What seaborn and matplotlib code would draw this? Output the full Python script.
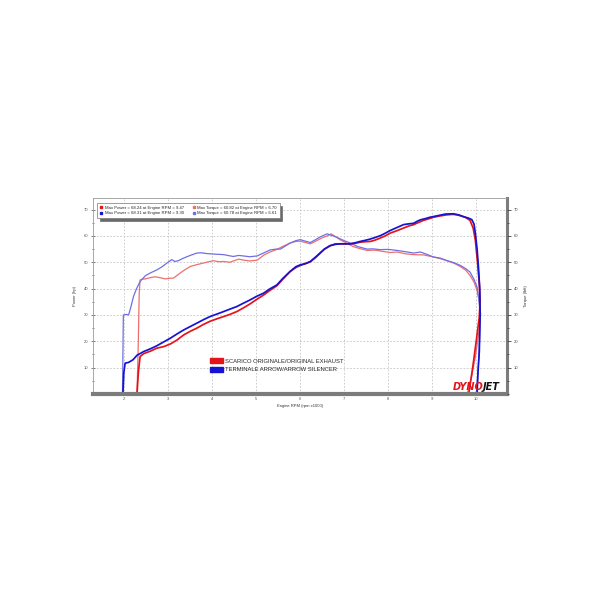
import numpy as np
import pandas as pd
import matplotlib.pyplot as plt
import seaborn as sns
from matplotlib.lines import Line2D
from matplotlib.patches import Patch
from matplotlib.ticker import MultipleLocator


# --- data (rpm in thousands) ---
red_power_rpm = [2.29, 2.32, 2.36, 2.44, 2.6, 2.74, 2.9, 3.05, 3.2, 3.35, 3.5, 3.65, 3.8, 3.95,
                 4.1, 4.26, 4.4, 4.56, 4.7, 4.86, 5.0, 5.17, 5.3, 5.47, 5.6, 5.77, 5.9, 6.0,
                 6.12, 6.23, 6.35, 6.45, 6.55, 6.68, 6.8, 6.91, 7.02, 7.14, 7.25, 7.36, 7.47,
                 7.59, 7.7, 7.82, 7.93, 8.05, 8.2, 8.35, 8.47, 8.58, 8.7, 8.8, 8.92, 9.03,
                 9.18, 9.33, 9.47, 9.56, 9.66, 9.75, 9.86, 9.93, 9.98, 10.03, 10.07, 10.09,
                 10.07, 10.0, 9.92, 9.83]
red_power_hp = [0, 8, 14.2, 15.3, 16.3, 17.4, 18.0, 19.0, 20.5, 22.4, 23.8, 25.0, 26.4, 27.6,
                28.5, 29.4, 30.2, 31.3, 32.6, 34.2, 35.8, 37.6, 39.2, 41.1, 43.5, 46.5, 48.0, 48.8,
                49.5, 50.2, 51.8, 53.4, 55.0, 56.3, 57.0, 57.0, 57.0, 57.0, 57.2, 57.6, 57.8,
                57.9, 58.4, 59.2, 60.0, 61.1, 62.0, 63.0, 63.8, 64.3, 65.2, 65.9, 66.5, 67.1,
                67.6, 68.0, 68.2, 68.0, 67.6, 67.1, 65.9, 63.0, 58.5, 50.0, 42.0, 35.5,
                29.2, 20.0, 10.0, 0]

blue_power_rpm = [1.97, 1.99, 2.02, 2.1, 2.2, 2.29, 2.44, 2.6, 2.74, 2.9, 3.05, 3.2, 3.35, 3.5,
                  3.65, 3.8, 3.95, 4.1, 4.26, 4.4, 4.56, 4.7, 4.86, 5.0, 5.17, 5.3, 5.47, 5.6,
                  5.77, 5.9, 6.0, 6.12, 6.23, 6.35, 6.45, 6.55, 6.68, 6.8, 6.91, 7.02, 7.14,
                  7.25, 7.36, 7.47, 7.59, 7.7, 7.82, 7.93, 8.05, 8.2, 8.35, 8.47, 8.58, 8.65,
                  8.73, 8.85, 8.95, 9.1, 9.3, 9.48, 9.6, 9.71, 9.82, 9.9, 9.95, 9.98, 10.02,
                  10.05, 10.08, 10.09, 10.07, 10.04, 10.02]
blue_power_hp = [0, 8, 11.7, 12.0, 13.0, 14.7, 16.1, 17.2, 18.3, 19.8, 21.2, 22.8, 24.3, 25.6,
                 26.9, 28.2, 29.4, 30.3, 31.3, 32.2, 33.2, 34.4, 35.7, 37.0, 38.3, 39.8, 41.4, 43.8,
                 46.5, 48.3, 49.0, 49.5, 50.3, 52.0, 53.5, 55.0, 56.3, 56.8, 57.0, 57.0, 57.0,
                 57.4, 57.9, 58.3, 58.8, 59.4, 60.1, 61.0, 62.1, 63.2, 64.3, 64.6, 64.8, 65.5,
                 66.1, 66.6, 67.1, 67.6, 68.3, 68.4, 68.0, 67.3, 66.8, 66.2, 64.5, 61.1, 55.0,
                 48.4, 40.0, 30.0, 16.0, 8.0, 0]

red_torque_rpm = [2.29, 2.32, 2.34, 2.36, 2.42, 2.48, 2.6, 2.7, 2.8, 2.93, 3.02, 3.12, 3.2, 3.27,
                  3.38, 3.5, 3.65, 3.8, 3.92, 4.03, 4.15, 4.26, 4.4, 4.5, 4.6, 4.72, 4.85, 5.02,
                  5.1, 5.17, 5.3, 5.47, 5.6, 5.77, 5.9, 6.0, 6.12, 6.23, 6.35, 6.5, 6.64, 6.7,
                  6.8, 6.9, 7.05, 7.2, 7.35, 7.52, 7.7, 7.85, 8.05, 8.2, 8.4, 8.58, 8.8, 9.03,
                  9.2, 9.33, 9.5, 9.64, 9.76, 9.86, 9.95, 10.02, 10.07, 10.1, 10.05, 9.98, 9.9,
                  9.82, 9.79]
red_torque_lbft = [0, 20, 38, 43.3, 43.6, 43.7, 44.2, 44.5, 44.2, 43.7, 43.9, 44.0, 45.0, 45.9,
                   47.2, 48.4, 49.1, 49.7, 50.2, 50.6, 50.2, 50.3, 50.0, 50.6, 51.2, 50.8, 50.5, 50.8,
                   51.8, 52.7, 53.8, 54.9, 56.0, 57.3, 57.9, 58.0, 57.5, 57.0, 58.0, 59.3, 60.2, 60.8,
                   59.8, 58.6, 57.3, 56.0, 55.2, 54.5, 54.6, 54.2, 53.7, 53.9, 53.2, 52.9, 52.8, 52.0,
                   51.3, 50.6, 49.6, 48.4, 47.0, 45.0, 42.5, 39.3, 35.0, 30.4, 22.0, 14.0, 7.0,
                   1.5, 0]

blue_torque_rpm = [1.96, 1.97, 1.98, 2.05, 2.1, 2.15, 2.21, 2.28, 2.36, 2.48, 2.6, 2.74, 2.85,
                   2.97, 3.08, 3.15, 3.23, 3.35, 3.5, 3.65, 3.75, 3.88, 4.05, 4.26, 4.35, 4.48,
                   4.6, 4.71, 4.85, 5.02, 5.15, 5.32, 5.45, 5.55, 5.77, 5.9, 6.0, 6.12, 6.23,
                   6.35, 6.45, 6.61, 6.75, 6.87, 7.0, 7.14, 7.3, 7.52, 7.65, 7.82, 8.0, 8.2, 8.4,
                   8.58, 8.73, 8.88, 9.03, 9.18, 9.33, 9.5, 9.64, 9.76, 9.86, 9.95, 10.02, 10.06,
                   10.09, 10.08, 10.06, 10.03, 10.0]
blue_torque_lbft = [0, 15, 30, 30.2, 30.0, 33.0, 37.0, 40.0, 42.7, 44.9, 46.0, 47.1, 48.2,
                    49.7, 51.0, 50.3, 50.6, 51.6, 52.6, 53.5, 53.6, 53.3, 53.1, 52.9, 52.6, 52.2,
                    52.6, 52.4, 52.1, 52.4, 53.4, 54.7, 55.0, 55.0, 57.3, 58.2, 58.6, 58.0, 57.5,
                    58.6, 59.6, 60.8, 60.0, 59.2, 58.2, 57.3, 56.0, 55.0, 55.1, 54.8, 54.9, 54.5, 54.0,
                    53.5, 53.9, 53.0, 52.0, 51.6, 50.7, 49.8, 48.8, 47.6, 46.3, 43.5, 40.6, 36.0,
                    30.4, 22.0, 14.0, 6.0, 0]

x_ticks = [2, 3, 4, 5, 6, 7, 8, 9, 10]
y_ticks = [10, 20, 30, 40, 50, 60, 70]

top_legend = [
    "Max Power = 68.24 at Engine RPM = 9.47",
    "Max Power = 68.31 at Engine RPM = 9.30",
    "Max Torque = 60.82 at Engine RPM = 6.70",
    "Max Torque = 60.78 at Engine RPM = 6.61",
]
run_names = ["SCARICO ORIGINALE/ORIGINAL EXHAUST", "TERMINALE ARROW/ARROW SILENCER"]

RED = "#e4141b"
BLUE = "#1414d2"
RED_T = "#ef6f6f"
BLUE_T = "#6f6fe6"


def main():
    sns.set_style("white")
    plt.rcParams["font.family"] = ["Liberation Sans", "DejaVu Sans"]

    curves = [
        (red_torque_rpm, red_torque_lbft, RED_T, 0.9),
        (blue_torque_rpm, blue_torque_lbft, BLUE_T, 0.9),
        (red_power_rpm, red_power_hp, RED, 1.25),
        (blue_power_rpm, blue_power_hp, BLUE, 1.25),
    ]

    fig = plt.figure(figsize=(6, 6), dpi=100)
    ax = fig.add_axes([93 / 600, 206 / 600, 414 / 600, 196 / 600])

    for rpm, val, color, lw in curves:
        df = pd.DataFrame({"rpm": rpm, "val": val})
        sns.lineplot(data=df, x="rpm", y="val", sort=False, estimator=None,
                     color=color, lw=lw, ax=ax)

    ax.set_xlim(1.29, 10.70)
    ax.set_ylim(0, 74.4)
    ax.set_xticks(x_ticks)
    ax.set_yticks(y_ticks)
    ax.xaxis.set_minor_locator(MultipleLocator(0.2))
    ax.yaxis.set_minor_locator(MultipleLocator(5))
    ax.grid(True, which="major", ls=(0, (2, 2)), color="#c4c4c4", lw=0.6)
    ax.tick_params(axis="x", which="both", direction="in", colors="#555555",
                   labelsize=3, pad=2.5)
    ax.tick_params(axis="x", which="major", length=4, width=0.6)
    ax.tick_params(axis="x", which="minor", length=2.5, width=0.5)
    ax.tick_params(axis="y", which="both", direction="inout", colors="#555555",
                   labelsize=3, pad=2, width=0.5)
    ax.tick_params(axis="y", which="major", length=3)
    ax.tick_params(axis="y", which="minor", length=1.5)
    ax.set_xlabel("Engine RPM (rpm x1000)", fontsize=3, labelpad=2, color="#333333")
    ax.set_ylabel("Power (hp)", fontsize=3, labelpad=5, color="#333333")

    for side in ["left", "top"]:
        ax.spines[side].set_color("#9a9a9a")
        ax.spines[side].set_linewidth(0.6)
    ax.spines["bottom"].set_color("#7c7c7c")
    ax.spines["bottom"].set_linewidth(3)
    ax.spines["right"].set_color("#7c7c7c")
    ax.spines["right"].set_linewidth(2.2)

    # torque scale on the right, same range
    ax2 = ax.twinx()
    ax2.set_ylim(ax.get_ylim())
    ax2.set_yticks(y_ticks)
    ax2.yaxis.set_minor_locator(MultipleLocator(5))
    ax2.tick_params(axis="y", which="both", direction="out", colors="#444444",
                    labelsize=3, pad=2, width=0.6)
    ax2.tick_params(axis="y", which="major", length=3)
    ax2.tick_params(axis="y", which="minor", length=1.5)
    ax2.set_ylabel("Torque (lbft)", fontsize=3, labelpad=4, color="#333333")
    for side in ax2.spines:
        ax2.spines[side].set_visible(False)

    # max values box
    handles = [
        Line2D([], [], ls="", marker="s", ms=2, color=RED),
        Line2D([], [], ls="", marker="s", ms=2, color=BLUE),
        Line2D([], [], ls="", marker="s", ms=2, color=RED_T),
        Line2D([], [], ls="", marker="s", ms=2, color=BLUE_T),
    ]
    leg1 = ax2.legend(handles, top_legend, ncol=2, fontsize=3.1, loc="upper left",
                      bbox_to_anchor=(0.004, 0.985), frameon=True, fancybox=False,
                      shadow={"color": "#6a6a6a", "alpha": 1}, edgecolor="#777777",
                      handlelength=0.6, handletextpad=0.6, columnspacing=2.0,
                      borderpad=0.6, labelspacing=0.4)
    leg1.get_frame().set_linewidth(0.5)
    ax2.add_artist(leg1)

    # run names
    patches = [Patch(facecolor=RED, edgecolor=RED), Patch(facecolor=BLUE, edgecolor=BLUE)]
    ax2.legend(patches, run_names, loc="center left", bbox_to_anchor=(0.272, 0.146),
               frameon=False, fontsize=4.2, handlelength=2.2, handleheight=0.9,
               handletextpad=0.4, labelspacing=0.5, borderpad=0.2)

    # dynojet mark
    logo = ax2.text(0.868, 0.012, "DYNO", transform=ax2.transAxes, color="#e4141b",
                    fontsize=7, fontweight="bold", fontstyle="italic", ha="left", va="bottom",
                    family="DejaVu Sans")
    ax2.annotate("JET", xy=(1, 0), xycoords=logo, color="#111111", fontsize=7,
                 fontweight="bold", fontstyle="italic", ha="left", va="bottom",
                 family="DejaVu Sans")

    fig.savefig("out.png", dpi=100)
    plt.close(fig)


if __name__ == "__main__":
    main()
